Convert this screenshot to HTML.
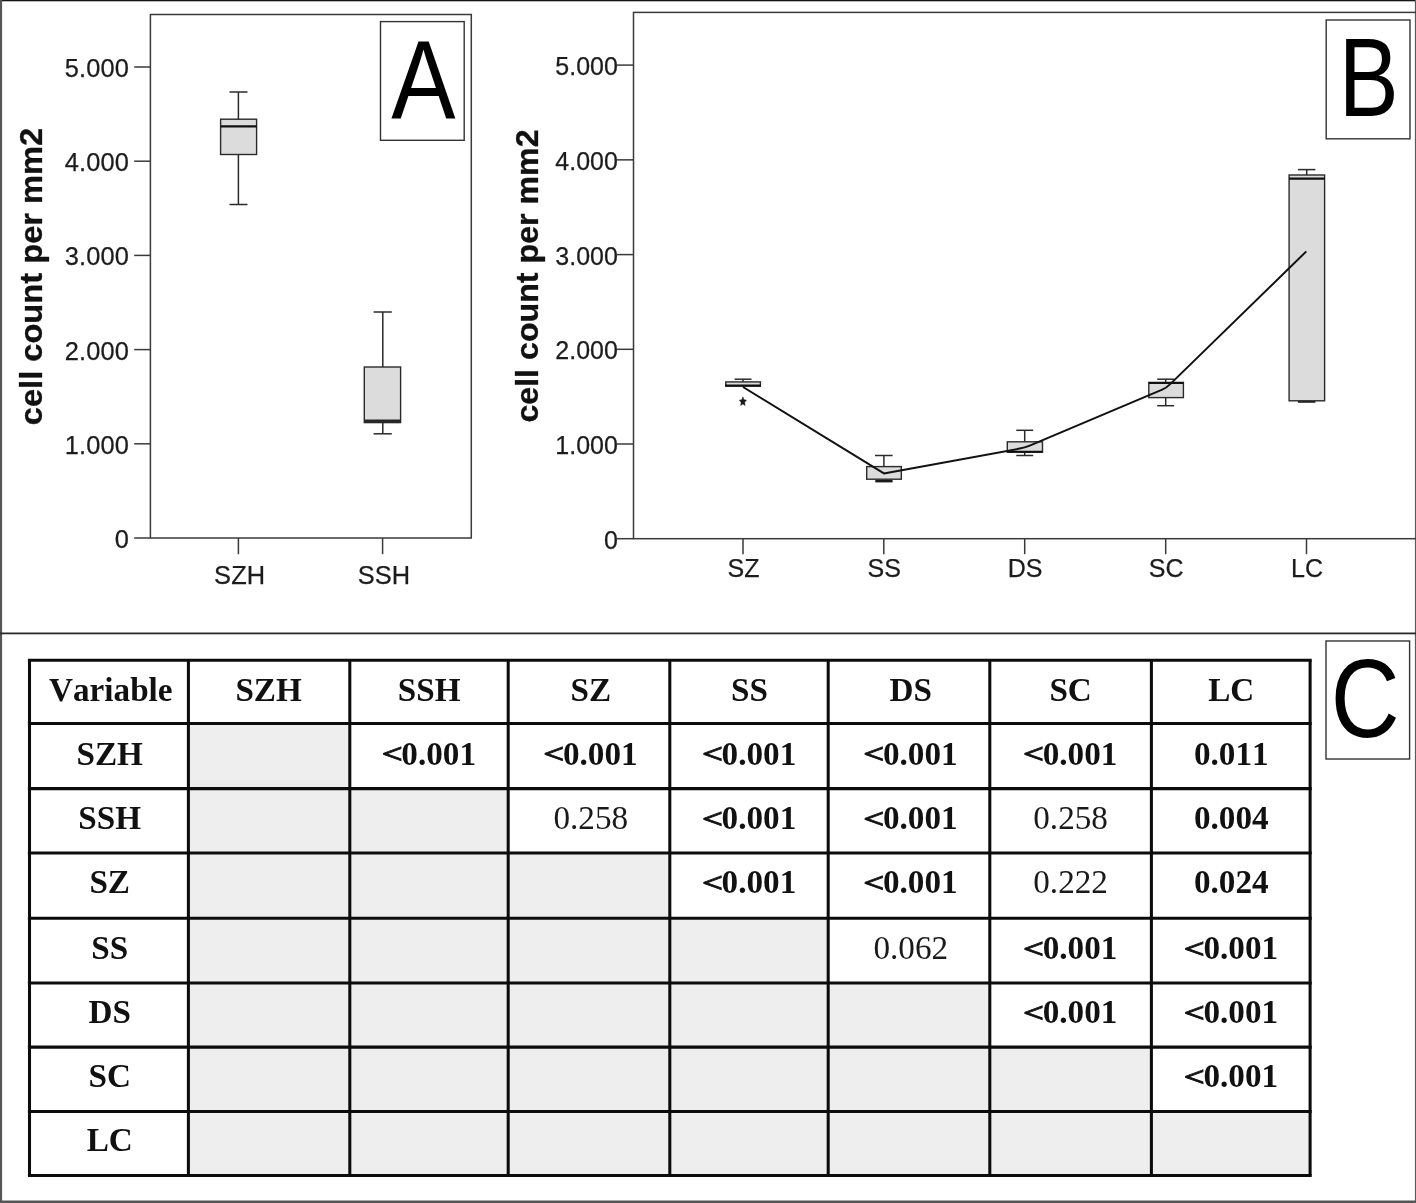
<!DOCTYPE html>
<html lang="en"><head><meta charset="utf-8"><title>Figure</title>
<style>html,body{margin:0;padding:0;background:#fff}body{width:1416px;height:1203px;overflow:hidden}svg{display:block}.t{font-family:"Liberation Sans",sans-serif;font-size:25.4px;fill:#1c1c1c;stroke:#1c1c1c;stroke-width:0.25;letter-spacing:0.12px}.yl{font-family:"Liberation Sans",sans-serif;font-size:31.8px;font-weight:bold;fill:#111;stroke:#111;stroke-width:0.3}.big{font-family:"Liberation Sans","DejaVu Sans",sans-serif;fill:#000}.tb{font-family:"Liberation Serif",serif;font-size:33.2px;font-weight:bold;fill:#111;text-anchor:middle;font-kerning:none}.tn{font-family:"Liberation Serif",serif;font-size:33.2px;fill:#1a1a1a;text-anchor:middle}.ln{stroke:#2a2a2a;stroke-width:1.5;fill:none}.fr{stroke:#3a3a3a;stroke-width:1.5;fill:none}.tB{font-size:25px;letter-spacing:0.05px}.bx{stroke:#2a2a2a;stroke-width:1.4;fill:#dcdcdc}</style></head><body>
<svg width="1416" height="1203" viewBox="0 0 1416 1203">
<rect x="0" y="0" width="1416" height="1203" fill="#fff"/>
<g id="outer">
<rect x="0" y="0" width="1416" height="1.3" fill="#151515"/>
<rect x="0" y="0" width="2.1" height="1203" fill="#555"/>
<rect x="0" y="1200.5" width="1416" height="2.5" fill="#555"/>
<rect x="1414.9" y="0" width="1.1" height="1203" fill="#5a5a5a"/>
<rect x="0" y="632.5" width="1416" height="1.8" fill="#2a2a2a"/>
</g>
<g id="panelA">
<rect class="fr" x="150.4" y="14.5" width="320.9" height="523.5"/>
<line class="fr" x1="134.2" y1="67.0" x2="150.4" y2="67.0"/>
<text class="t" x="128.9" y="77.0" text-anchor="end">5.000</text>
<line class="fr" x1="134.2" y1="161.2" x2="150.4" y2="161.2"/>
<text class="t" x="128.9" y="171.2" text-anchor="end">4.000</text>
<line class="fr" x1="134.2" y1="255.4" x2="150.4" y2="255.4"/>
<text class="t" x="128.9" y="265.4" text-anchor="end">3.000</text>
<line class="fr" x1="134.2" y1="349.6" x2="150.4" y2="349.6"/>
<text class="t" x="128.9" y="359.6" text-anchor="end">2.000</text>
<line class="fr" x1="134.2" y1="443.8" x2="150.4" y2="443.8"/>
<text class="t" x="128.9" y="453.8" text-anchor="end">1.000</text>
<line class="fr" x1="134.2" y1="538.0" x2="150.4" y2="538.0"/>
<text class="t" x="128.9" y="548.0" text-anchor="end">0</text>
<line class="fr" x1="238.4" y1="538.0" x2="238.4" y2="554.2"/>
<text class="t" x="239.7" y="583.6" text-anchor="middle">SZH</text>
<line class="fr" x1="382.6" y1="538.0" x2="382.6" y2="554.2"/>
<text class="t" x="384.0" y="583.6" text-anchor="middle">SSH</text>
<text class="yl" transform="translate(41.8,276.5) rotate(-90) scale(1.027,1)" text-anchor="middle">cell count per mm2</text>
<line class="ln" x1="238.4" y1="92" x2="238.4" y2="204.5"/>
<line class="ln" x1="229.5" y1="92" x2="247.5" y2="92"/>
<line class="ln" x1="229.5" y1="204.5" x2="247.5" y2="204.5"/>
<rect class="bx" x="220.6" y="119.2" width="36" height="35.3"/>
<line x1="220.6" y1="126.4" x2="256.6" y2="126.4" stroke="#111" stroke-width="2.4"/>
<line class="ln" x1="382.8" y1="312" x2="382.8" y2="433.8"/>
<line class="ln" x1="373.6" y1="312" x2="391.8" y2="312"/>
<line class="ln" x1="373.6" y1="433.8" x2="391.8" y2="433.8"/>
<rect class="bx" x="364.3" y="367" width="36.3" height="55.6"/>
<line x1="364.3" y1="420.7" x2="400.6" y2="420.7" stroke="#262626" stroke-width="2.5"/>
<rect x="380.5" y="21.6" width="83.7" height="118.7" fill="#fff" stroke="#333" stroke-width="1.4"/>
<text class="big" font-size="112" transform="translate(423.5,118.2) scale(0.861,1)" text-anchor="middle">A</text>
</g>
<g id="panelB">
<rect class="fr" x="633.5" y="12.4" width="784.5" height="526.3"/>
<line class="fr" x1="616.6" y1="65.1" x2="633.5" y2="65.1"/>
<text class="t tB" x="618" y="75.0" text-anchor="end">5.000</text>
<line class="fr" x1="616.6" y1="159.85" x2="633.5" y2="159.85"/>
<text class="t tB" x="618" y="169.8" text-anchor="end">4.000</text>
<line class="fr" x1="616.6" y1="254.6" x2="633.5" y2="254.6"/>
<text class="t tB" x="618" y="264.5" text-anchor="end">3.000</text>
<line class="fr" x1="616.6" y1="349.3" x2="633.5" y2="349.3"/>
<text class="t tB" x="618" y="359.2" text-anchor="end">2.000</text>
<line class="fr" x1="616.6" y1="444.0" x2="633.5" y2="444.0"/>
<text class="t tB" x="618" y="453.9" text-anchor="end">1.000</text>
<line class="fr" x1="616.6" y1="538.7" x2="633.5" y2="538.7"/>
<text class="t tB" x="618" y="548.6" text-anchor="end">0</text>
<line class="fr" x1="743.0" y1="538.7" x2="743.0" y2="554.2"/>
<text class="t tB" x="743.5" y="577.4" text-anchor="middle">SZ</text>
<line class="fr" x1="883.8" y1="538.7" x2="883.8" y2="554.2"/>
<text class="t tB" x="884.3" y="577.4" text-anchor="middle">SS</text>
<line class="fr" x1="1024.7" y1="538.7" x2="1024.7" y2="554.2"/>
<text class="t tB" x="1025.2" y="577.4" text-anchor="middle">DS</text>
<line class="fr" x1="1165.7" y1="538.7" x2="1165.7" y2="554.2"/>
<text class="t tB" x="1166.2" y="577.4" text-anchor="middle">SC</text>
<line class="fr" x1="1306.5" y1="538.7" x2="1306.5" y2="554.2"/>
<text class="t tB" x="1307.0" y="577.4" text-anchor="middle">LC</text>
<text class="yl" transform="translate(538.4,276) rotate(-90) scale(1.012,1)" text-anchor="middle">cell count per mm2</text>
<line class="ln" x1="743" y1="379.2" x2="743" y2="382"/>
<line class="ln" x1="734.6" y1="379.2" x2="751.5" y2="379.2"/>
<rect class="bx" x="725.8" y="381.9" width="34.6" height="4.3"/>
<line x1="725" y1="385.6" x2="760.8" y2="385.6" stroke="#111" stroke-width="2"/>
<polygon points="742.90,396.90 743.98,399.74 746.48,400.15 744.65,402.31 745.11,405.40 742.90,403.90 740.69,405.40 741.15,402.31 739.32,400.15 741.82,399.74" fill="#1a1a1a" stroke="#1a1a1a" stroke-width="0.5" stroke-linejoin="round"/>
<line class="ln" x1="883.9" y1="455.5" x2="883.9" y2="467"/>
<line class="ln" x1="875" y1="455.5" x2="892.6" y2="455.5"/>
<line x1="875.3" y1="481.1" x2="892.6" y2="481.1" stroke="#1a1a1a" stroke-width="2.6"/>
<rect class="bx" x="866.7" y="466.6" width="34.6" height="12.6"/>
<line class="ln" x1="1024.7" y1="430.3" x2="1024.7" y2="455.5"/>
<line class="ln" x1="1016.3" y1="430.3" x2="1033.2" y2="430.3"/>
<line class="ln" x1="1016.3" y1="455.5" x2="1033.2" y2="455.5"/>
<rect class="bx" x="1007.3" y="441.8" width="35.2" height="10.4"/>
<line x1="1007.3" y1="451.7" x2="1042.5" y2="451.7" stroke="#111" stroke-width="2.0"/>
<line class="ln" x1="1165.7" y1="379.2" x2="1165.7" y2="405.7"/>
<line class="ln" x1="1157.2" y1="379.2" x2="1174.1" y2="379.2"/>
<line class="ln" x1="1157.2" y1="405.7" x2="1174.1" y2="405.7"/>
<rect class="bx" x="1148.8" y="382.4" width="34.6" height="15.2"/>
<line x1="1148.8" y1="383" x2="1183.4" y2="383" stroke="#111" stroke-width="2.2"/>
<line class="ln" x1="1306.7" y1="169.6" x2="1306.7" y2="175"/>
<line class="ln" x1="1297.9" y1="169.6" x2="1315.4" y2="169.6"/>
<line x1="1297.9" y1="401.8" x2="1315.4" y2="401.8" stroke="#222" stroke-width="2"/>
<rect class="bx" x="1289.1" y="175" width="35.5" height="225.8"/>
<line x1="1289.1" y1="178.6" x2="1324.6" y2="178.6" stroke="#111" stroke-width="2.2"/>
<path d="M743,387 L883.9,473.4 L1019.7,448.6 Q1024.7,447.7 1029.7,445.6 L1162.2,389.7 Q1166.2,388.0 1170.2,384.1 L1306.3,251.4" stroke="#111" stroke-width="2.0" fill="none" stroke-linejoin="round"/>
<rect x="1326.2" y="20" width="83.8" height="118.8" fill="#fff" stroke="#333" stroke-width="1.4"/>
<text class="big" font-size="112" transform="translate(1368.6,116.3) scale(0.802,1)" text-anchor="middle">B</text>
</g>
<g id="panelC">
<rect x="188.4" y="723.4" width="161.4" height="65.2" fill="#eeeeee"/>
<rect x="188.4" y="788.6" width="161.4" height="64.4" fill="#eeeeee"/>
<rect x="349.8" y="788.6" width="158.4" height="64.4" fill="#eeeeee"/>
<rect x="188.4" y="853.0" width="161.4" height="65.2" fill="#eeeeee"/>
<rect x="349.8" y="853.0" width="158.4" height="65.2" fill="#eeeeee"/>
<rect x="508.2" y="853.0" width="161.6" height="65.2" fill="#eeeeee"/>
<rect x="188.4" y="918.2" width="161.4" height="64.8" fill="#eeeeee"/>
<rect x="349.8" y="918.2" width="158.4" height="64.8" fill="#eeeeee"/>
<rect x="508.2" y="918.2" width="161.6" height="64.8" fill="#eeeeee"/>
<rect x="669.8" y="918.2" width="158.4" height="64.8" fill="#eeeeee"/>
<rect x="188.4" y="983.0" width="161.4" height="64.1" fill="#eeeeee"/>
<rect x="349.8" y="983.0" width="158.4" height="64.1" fill="#eeeeee"/>
<rect x="508.2" y="983.0" width="161.6" height="64.1" fill="#eeeeee"/>
<rect x="669.8" y="983.0" width="158.4" height="64.1" fill="#eeeeee"/>
<rect x="828.2" y="983.0" width="161.6" height="64.1" fill="#eeeeee"/>
<rect x="188.4" y="1047.1" width="161.4" height="64.4" fill="#eeeeee"/>
<rect x="349.8" y="1047.1" width="158.4" height="64.4" fill="#eeeeee"/>
<rect x="508.2" y="1047.1" width="161.6" height="64.4" fill="#eeeeee"/>
<rect x="669.8" y="1047.1" width="158.4" height="64.4" fill="#eeeeee"/>
<rect x="828.2" y="1047.1" width="161.6" height="64.4" fill="#eeeeee"/>
<rect x="989.8" y="1047.1" width="161.6" height="64.4" fill="#eeeeee"/>
<rect x="188.4" y="1111.5" width="161.4" height="64.0" fill="#eeeeee"/>
<rect x="349.8" y="1111.5" width="158.4" height="64.0" fill="#eeeeee"/>
<rect x="508.2" y="1111.5" width="161.6" height="64.0" fill="#eeeeee"/>
<rect x="669.8" y="1111.5" width="158.4" height="64.0" fill="#eeeeee"/>
<rect x="828.2" y="1111.5" width="161.6" height="64.0" fill="#eeeeee"/>
<rect x="989.8" y="1111.5" width="161.6" height="64.0" fill="#eeeeee"/>
<rect x="1151.4" y="1111.5" width="158.7" height="64.0" fill="#eeeeee"/>
<line x1="29.5" y1="660.3" x2="29.5" y2="1175.5" stroke="#0c0c0c" stroke-width="3.05"/>
<line x1="188.4" y1="660.3" x2="188.4" y2="1175.5" stroke="#0c0c0c" stroke-width="3.05"/>
<line x1="349.8" y1="660.3" x2="349.8" y2="1175.5" stroke="#0c0c0c" stroke-width="3.05"/>
<line x1="508.2" y1="660.3" x2="508.2" y2="1175.5" stroke="#0c0c0c" stroke-width="3.05"/>
<line x1="669.8" y1="660.3" x2="669.8" y2="1175.5" stroke="#0c0c0c" stroke-width="3.05"/>
<line x1="828.2" y1="660.3" x2="828.2" y2="1175.5" stroke="#0c0c0c" stroke-width="3.05"/>
<line x1="989.8" y1="660.3" x2="989.8" y2="1175.5" stroke="#0c0c0c" stroke-width="3.05"/>
<line x1="1151.4" y1="660.3" x2="1151.4" y2="1175.5" stroke="#0c0c0c" stroke-width="3.05"/>
<line x1="1310.1" y1="660.3" x2="1310.1" y2="1175.5" stroke="#0c0c0c" stroke-width="3.05"/>
<line x1="27.9" y1="660.3" x2="1311.7" y2="660.3" stroke="#0c0c0c" stroke-width="3.05"/>
<line x1="27.9" y1="723.4" x2="1311.7" y2="723.4" stroke="#0c0c0c" stroke-width="3.05"/>
<line x1="27.9" y1="788.6" x2="1311.7" y2="788.6" stroke="#0c0c0c" stroke-width="3.05"/>
<line x1="27.9" y1="853.0" x2="1311.7" y2="853.0" stroke="#0c0c0c" stroke-width="3.05"/>
<line x1="27.9" y1="918.2" x2="1311.7" y2="918.2" stroke="#0c0c0c" stroke-width="3.05"/>
<line x1="27.9" y1="983.0" x2="1311.7" y2="983.0" stroke="#0c0c0c" stroke-width="3.05"/>
<line x1="27.9" y1="1047.1" x2="1311.7" y2="1047.1" stroke="#0c0c0c" stroke-width="3.05"/>
<line x1="27.9" y1="1111.5" x2="1311.7" y2="1111.5" stroke="#0c0c0c" stroke-width="3.05"/>
<line x1="27.9" y1="1175.5" x2="1311.7" y2="1175.5" stroke="#0c0c0c" stroke-width="3.05"/>
<text class="tb" x="110.8" y="700.6">Variable</text>
<text class="tb" x="268.6" y="700.6">SZH</text>
<text class="tb" x="109.7" y="764.5">SZH</text>
<text class="tb" x="429.2" y="700.6">SSH</text>
<text class="tb" x="109.7" y="828.6">SSH</text>
<text class="tb" x="590.8" y="700.6">SZ</text>
<text class="tb" x="109.7" y="893.0">SZ</text>
<text class="tb" x="749.5" y="700.6">SS</text>
<text class="tb" x="109.7" y="958.9">SS</text>
<text class="tb" x="910.8" y="700.6">DS</text>
<text class="tb" x="109.7" y="1023.1">DS</text>
<text class="tb" x="1070.6" y="700.6">SC</text>
<text class="tb" x="109.7" y="1087.4">SC</text>
<text class="tb" x="1231.3" y="700.6">LC</text>
<text class="tb" x="109.7" y="1151.3">LC</text>
<text class="tb" style="text-anchor:start" transform="translate(381.70,755.1) scale(1.12,0.84)" x="0" y="9.9" stroke="#111" stroke-width="0.9">&lt;</text>
<text class="tb" style="text-anchor:start" x="401.32" y="764.5">0.001</text>
<text class="tb" style="text-anchor:start" transform="translate(543.30,755.1) scale(1.12,0.84)" x="0" y="9.9" stroke="#111" stroke-width="0.9">&lt;</text>
<text class="tb" style="text-anchor:start" x="562.92" y="764.5">0.001</text>
<text class="tb" style="text-anchor:start" transform="translate(702.00,755.1) scale(1.12,0.84)" x="0" y="9.9" stroke="#111" stroke-width="0.9">&lt;</text>
<text class="tb" style="text-anchor:start" x="721.62" y="764.5">0.001</text>
<text class="tb" style="text-anchor:start" transform="translate(863.30,755.1) scale(1.12,0.84)" x="0" y="9.9" stroke="#111" stroke-width="0.9">&lt;</text>
<text class="tb" style="text-anchor:start" x="882.92" y="764.5">0.001</text>
<text class="tb" style="text-anchor:start" transform="translate(1023.10,755.1) scale(1.12,0.84)" x="0" y="9.9" stroke="#111" stroke-width="0.9">&lt;</text>
<text class="tb" style="text-anchor:start" x="1042.72" y="764.5">0.001</text>
<text class="tb" x="1231.3" y="764.5">0.011</text>
<text class="tn" x="590.8" y="828.6">0.258</text>
<text class="tb" style="text-anchor:start" transform="translate(702.00,819.2) scale(1.12,0.84)" x="0" y="9.9" stroke="#111" stroke-width="0.9">&lt;</text>
<text class="tb" style="text-anchor:start" x="721.62" y="828.6">0.001</text>
<text class="tb" style="text-anchor:start" transform="translate(863.30,819.2) scale(1.12,0.84)" x="0" y="9.9" stroke="#111" stroke-width="0.9">&lt;</text>
<text class="tb" style="text-anchor:start" x="882.92" y="828.6">0.001</text>
<text class="tn" x="1070.6" y="828.6">0.258</text>
<text class="tb" x="1231.3" y="828.6">0.004</text>
<text class="tb" style="text-anchor:start" transform="translate(702.00,883.6) scale(1.12,0.84)" x="0" y="9.9" stroke="#111" stroke-width="0.9">&lt;</text>
<text class="tb" style="text-anchor:start" x="721.62" y="893.0">0.001</text>
<text class="tb" style="text-anchor:start" transform="translate(863.30,883.6) scale(1.12,0.84)" x="0" y="9.9" stroke="#111" stroke-width="0.9">&lt;</text>
<text class="tb" style="text-anchor:start" x="882.92" y="893.0">0.001</text>
<text class="tn" x="1070.6" y="893.0">0.222</text>
<text class="tb" x="1231.3" y="893.0">0.024</text>
<text class="tn" x="910.8" y="958.9">0.062</text>
<text class="tb" style="text-anchor:start" transform="translate(1023.10,949.5) scale(1.12,0.84)" x="0" y="9.9" stroke="#111" stroke-width="0.9">&lt;</text>
<text class="tb" style="text-anchor:start" x="1042.72" y="958.9">0.001</text>
<text class="tb" style="text-anchor:start" transform="translate(1183.85,949.5) scale(1.12,0.84)" x="0" y="9.9" stroke="#111" stroke-width="0.9">&lt;</text>
<text class="tb" style="text-anchor:start" x="1203.47" y="958.9">0.001</text>
<text class="tb" style="text-anchor:start" transform="translate(1023.10,1013.7) scale(1.12,0.84)" x="0" y="9.9" stroke="#111" stroke-width="0.9">&lt;</text>
<text class="tb" style="text-anchor:start" x="1042.72" y="1023.1">0.001</text>
<text class="tb" style="text-anchor:start" transform="translate(1183.85,1013.7) scale(1.12,0.84)" x="0" y="9.9" stroke="#111" stroke-width="0.9">&lt;</text>
<text class="tb" style="text-anchor:start" x="1203.47" y="1023.1">0.001</text>
<text class="tb" style="text-anchor:start" transform="translate(1183.85,1078.0) scale(1.12,0.84)" x="0" y="9.9" stroke="#111" stroke-width="0.9">&lt;</text>
<text class="tb" style="text-anchor:start" x="1203.47" y="1087.4">0.001</text>
<rect x="1326" y="641" width="83.6" height="118" fill="#fff" stroke="#333" stroke-width="1.4"/>
<text class="big" font-size="111.3" transform="translate(1365.3,736.5) scale(0.857,1)" text-anchor="middle">C</text>
</g>
</svg></body></html>
